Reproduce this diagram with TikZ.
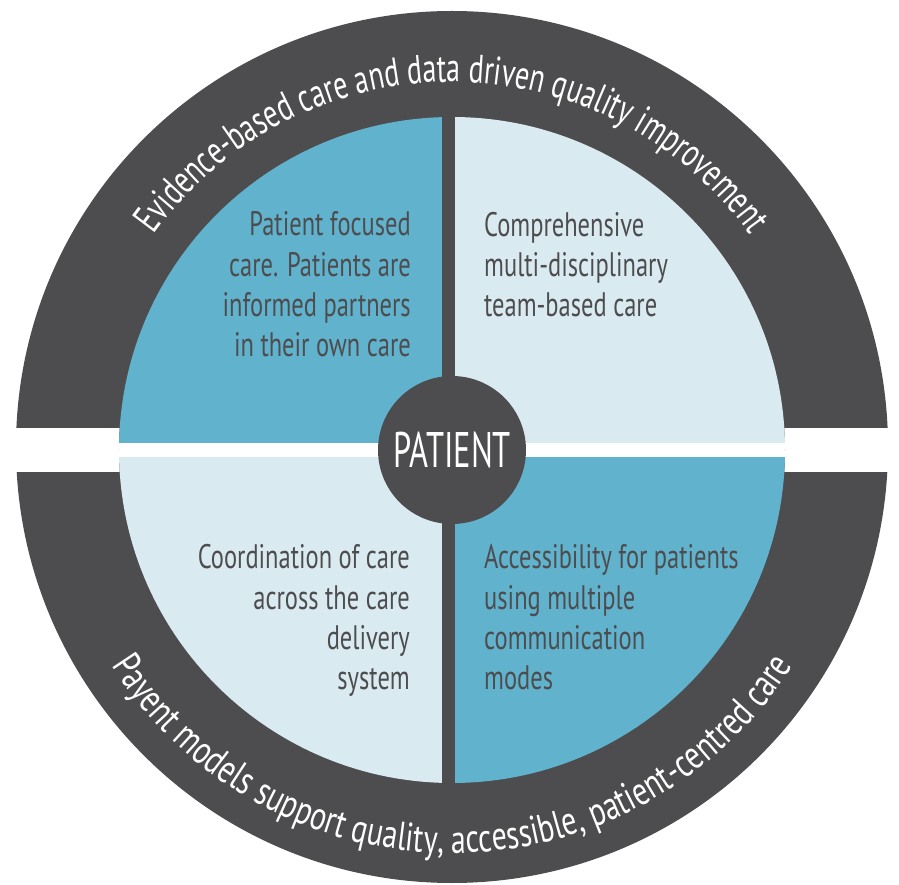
\documentclass[tikz,border=0pt]{standalone}
\usepackage{fontspec}
\usetikzlibrary{decorations.text}
\newfontfamily\qfont[FakeStretch=0.72]{PT Sans}
\newfontfamily\pfont[FakeStretch=0.65]{PT Sans}
\newfontfamily\ringfont[FakeStretch=0.70]{PT Sans}
\newfontfamily\ringfontb[FakeStretch=0.75]{PT Sans}
\definecolor{ringdark}{RGB}{77,77,79}
\definecolor{qblue}{RGB}{97,178,204}
\definecolor{qlight}{RGB}{218,234,241}
\begin{document}
\begin{tikzpicture}[x=1pt,y=1pt,
  qtext/.style={font=\qfont\fontsize{34}{40.4}\selectfont, text=ringdark, inner sep=0pt},
  ringtext/.style={decorate, decoration={text along path, text align=center, text color=white, text={#1}}}]
\useasboundingbox (-452,-436) rectangle (447,449);
% outer ring
\fill[ringdark] (0,2) circle[radius=436];
\fill[white] (-460,-23) rectangle (460,21);
% quadrants
\begin{scope}
  \clip (0,-1) circle[radius=333];
  \fill[ringdark] (-340,-340) rectangle (340,340);
  \fill[qblue]  (-340,6) rectangle (-10,340);
  \fill[qlight] (3,6) rectangle (340,340);
  \fill[qlight] (-340,-8) rectangle (-10,-340);
  \fill[qblue]  (3,-8) rectangle (340,-340);
  \fill[white]  (-340,-8) rectangle (340,6);
\end{scope}
% centre
\node[circle, fill=ringdark, minimum size=148pt, inner sep=0pt, text=white,
      font=\pfont\fontsize{50}{50}\selectfont] (patient) at (0,-1) {PATIENT};
% quadrant texts (base anchor = last line)
\node[qtext, align=right, anchor=base east] (ul) at (-41,92)
  {Patient focused\\care. Patients are\\informed partners\\in their own care};
\node[qtext, align=left, anchor=base west] (ur) at (32,132)
  {Comprehensive\\multi-disciplinary\\team-based care};
\node[qtext, align=right, anchor=base east] (ll) at (-42,-241)
  {Coordination of care\\across the care\\delivery\\system};
\node[qtext, align=left, anchor=base west] (lr) at (32,-241)
  {Accessibility for patients\\using multiple\\communication\\modes};
% ring texts
\path[ringtext={|\ringfont\fontsize{40}{40}\selectfont|Evidence-based care and data driven quality improvement}]
  (-367,0) arc[start angle=180, end angle=0, radius=367];
\path[ringtext={|\ringfontb\fontsize{40}{40}\selectfont|Payent models support quality, accessible, patient-centred care}]
  (-404,0) arc[start angle=180, end angle=360, radius=404];
\end{tikzpicture}
\end{document}
